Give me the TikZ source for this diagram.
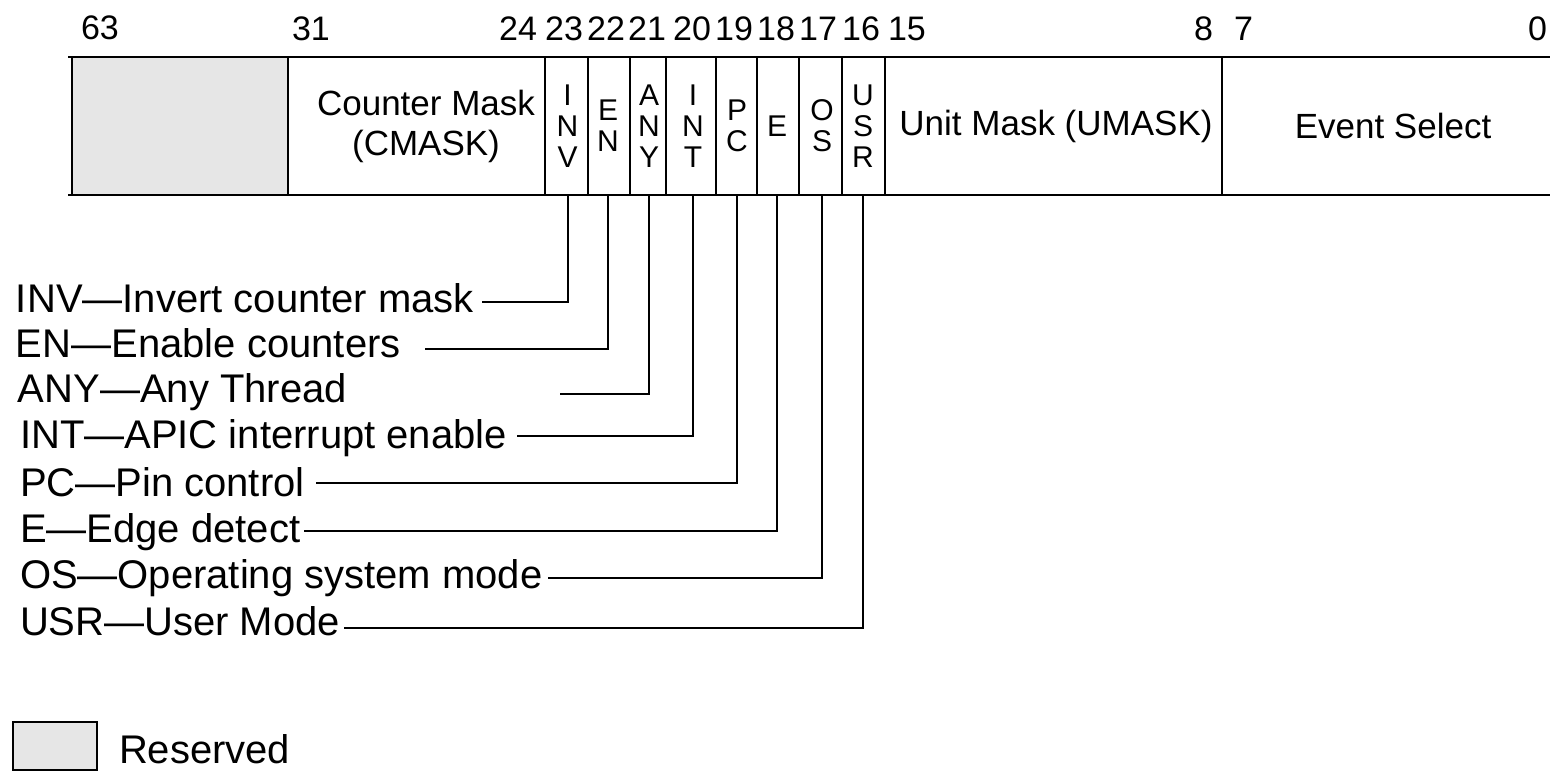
\documentclass[tikz,border=0pt]{standalone}
\usepackage{fontspec}
\setmainfont{Liberation Sans}
\definecolor{resgray}{HTML}{E6E6E6}
\begin{document}
\begin{tikzpicture}[x=0.5pt,y=-0.5pt, line width=1pt,
  lab/.style={anchor=base west, inner sep=0, font=\fontsize{20}{24}\selectfont},
  fldtext/.style={inner sep=0, font=\fontsize{17.5}{20}\selectfont, align=center},
  bitfield/.style={inner sep=0, minimum height=69pt, font=\fontsize{15}{15.5}\selectfont, align=center},
  bitnum/.style={inner sep=0, font=\fontsize{17}{20}\selectfont},
  conn/.style={line width=1pt}]
\useasboundingbox (0,0) rectangle (1550,772);

% register outline
\fill[resgray] (72,57) rectangle (288,195);
\draw (68,57) -- (1550,57);
\draw (68,195) -- (1550,195);
\foreach \x in {72,288,545,588,630,666,716,757,799,842,885,1222}
  \draw (\x,57) -- (\x,195);

% field texts
\node[fldtext] (cmask) at (426,126) {Counter Mask\\(CMASK)};
\node[fldtext] (umask) at (1056,126) {Unit Mask (UMASK)};
\node[fldtext] (evsel) at (1393,126) {Event Select};

\node[bitfield, minimum width=20pt] (inv) at (567.5,126) {I\\N\\V};
\node[bitfield, minimum width=20pt] (en)  at (608,126)   {E\\N};
\node[bitfield, minimum width=17pt] (any) at (649,126)   {A\\N\\Y};
\node[bitfield, minimum width=22pt] (int) at (693,126)   {I\\N\\T};
\node[bitfield, minimum width=20pt] (pc)  at (737,126)   {P\\C};
\node[bitfield, minimum width=20pt] (e)   at (777,126)   {E};
\node[bitfield, minimum width=20pt] (os)  at (822,126)   {O\\S};
\node[bitfield, minimum width=20pt] (usr) at (863,126)   {U\\S\\R};

% bit numbers
\node[bitnum, anchor=base west] (n63) at (80,39) {63};
\node[bitnum, anchor=base west] (n31) at (291,40) {31};
\node[bitnum, anchor=base east] (n24) at (538,40) {24};
\node[bitnum, anchor=base] (n23) at (564,40) {23};
\node[bitnum, anchor=base] (n22) at (606,40) {22};
\node[bitnum, anchor=base] (n21) at (647,40) {21};
\node[bitnum, anchor=base] (n20) at (692,40) {20};
\node[bitnum, anchor=base] (n19) at (734,40) {19};
\node[bitnum, anchor=base] (n18) at (776,40) {18};
\node[bitnum, anchor=base] (n17) at (818,40) {17};
\node[bitnum, anchor=base] (n16) at (861,40) {16};
\node[bitnum, anchor=base west] (n15) at (887,40) {15};
\node[bitnum, anchor=base east] (n8) at (1214,40) {8};
\node[bitnum, anchor=base west] (n7) at (1233,40) {7};
\node[bitnum, anchor=base east] (n0) at (1548,40) {0};

% labels
\node[lab] (linv) at (15,312) {INV---Invert counter mask};
\node[lab] (len)  at (15,357) {EN---Enable counters};
\node[lab] (lany) at (17,402) {ANY---Any Thread};
\node[lab] (lint) at (19,448) {INT---APIC interrupt enable};
\node[lab] (lpc)  at (19,496) {PC---Pin control};
\node[lab] (le)   at (19,542) {E---Edge detect};
\node[lab] (los)  at (19,588) {OS---Operating system mode};
\node[lab] (lusr) at (19,635) {USR---User Mode};

% connector ends
\coordinate (cinv) at (482,302);
\coordinate (cen)  at (425,349);
\coordinate (cany) at (560,394);
\coordinate (cint) at (517,436);
\coordinate (cpc)  at (316,483);
\coordinate (ce)   at (304,531);
\coordinate (cos)  at (548,578);
\coordinate (cusr) at (344,628);

\draw[conn] (inv.south) |- (cinv);
\draw[conn] (en.south)  |- (cen);
\draw[conn] (any.south) |- (cany);
\draw[conn] (int.south) |- (cint);
\draw[conn] (pc.south)  |- (cpc);
\draw[conn] (e.south)   |- (ce);
\draw[conn] (os.south)  |- (cos);
\draw[conn] (usr.south) |- (cusr);

% legend
\node[draw, fill=resgray, inner sep=0, minimum width=42pt, minimum height=24pt] (leg) at (55,746) {};
\node[lab] (lres) at (118,763) {Reserved};
\end{tikzpicture}
\end{document}
